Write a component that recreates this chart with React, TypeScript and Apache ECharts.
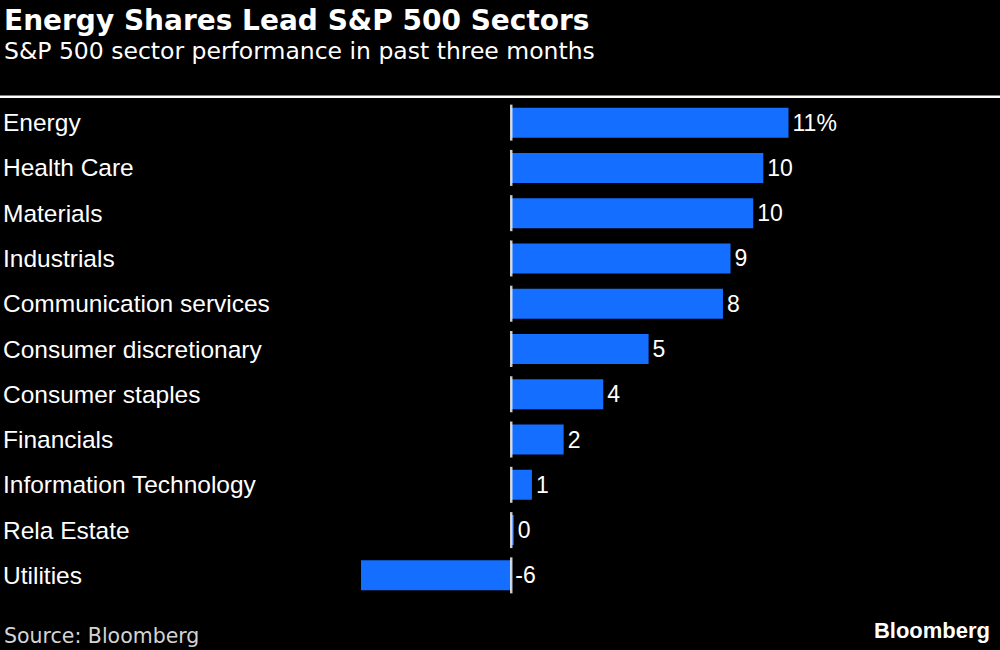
import React, { useEffect, useRef } from "react";
import * as echarts from "echarts";

const categories = [
  "Energy",
  "Health Care",
  "Materials",
  "Industrials",
  "Communication services",
  "Consumer discretionary",
  "Consumer staples",
  "Financials",
  "Information Technology",
  "Rela Estate",
  "Utilities",
];
const values = [11.0, 10.0, 9.6, 8.7, 8.4, 5.45, 3.65, 2.08, 0.82, 0.1, -5.96];

const titleText = "Energy Shares Lead S&P 500 Sectors";
const subtitleText = "S&P 500 sector performance in past three months";
const sourceText = "Source: Bloomberg";
const brandText = "Bloomberg";

export default function App() {
  const ref = useRef<HTMLDivElement>(null);
  useEffect(() => {
    if (!ref.current) return;
    const chart = echarts.init(ref.current, null, { renderer: "svg" });
    chart.setOption({
      animation: false,
      backgroundColor: "#000000",
      title: [
        {
          text: titleText,
          left: -1,
          top: 1,
          textStyle: { color: "#ffffff", fontFamily: "DejaVu Sans", fontWeight: "bold", fontSize: 28 },
        },
        {
          text: subtitleText,
          left: -1,
          top: 34,
          textStyle: { color: "#ffffff", fontFamily: "DejaVu Sans", fontWeight: "normal", fontSize: 23.5 },
        },
        {
          text: sourceText,
          left: -1,
          top: 620,
          textStyle: { color: "#d4d4d4", fontFamily: "DejaVu Sans", fontWeight: "normal", fontSize: 20.5 },
        },
        {
          text: brandText,
          right: 5,
          top: 614,
          textStyle: { color: "#ffffff", fontFamily: "Liberation Sans", fontWeight: "bold", fontSize: 22 },
        },
      ],
      graphic: [
        {
          type: "rect",
          shape: { x: 0, y: 95.5, width: 1000, height: 2.5 },
          style: { fill: "#ffffff" },
        },
      ],
      grid: { left: 355, width: 433.5, top: 100, height: 498 },
      xAxis: {
        type: "value",
        min: -6,
        max: 11,
        show: false,
      },
      yAxis: {
        type: "category",
        data: categories,
        inverse: true,
        axisLine: { show: false, onZero: false },
        axisTick: { show: false },
        splitLine: { show: false },
        axisLabel: {
          color: "#ffffff",
          fontFamily: "Liberation Sans",
          fontSize: 24.5,
          align: "left",
          margin: 357,
          verticalAlign: "middle",
          padding: [0, 0, 12, 0],
        },
      },
      series: [
        {
          type: "bar",
          data: values,
          barWidth: 30,
          itemStyle: { color: "#146eff" },
          label: {
            show: true,
            position: "right",
            distance: 4,
            color: "#ffffff",
            fontFamily: "Liberation Sans",
            fontSize: 23,
            formatter: (p: any) => {
              const r = Math.round(p.value);
              return p.dataIndex === 0 ? r + "%" : String(r);
            },
          },
        },
        {
          type: "scatter",
          data: categories.map((c) => [0, c]),
          symbol: "rect",
          symbolSize: [2.5, 36],
          itemStyle: { color: "#ffffff" },
          z: 5,
          silent: true,
        },
      ],
    });
    return () => chart.dispose();
  }, []);
  return (
    <div
      ref={ref}
      style={{ position: "absolute", left: 0, top: 0, width: 1000, height: 650 }}
    />
  );
}
